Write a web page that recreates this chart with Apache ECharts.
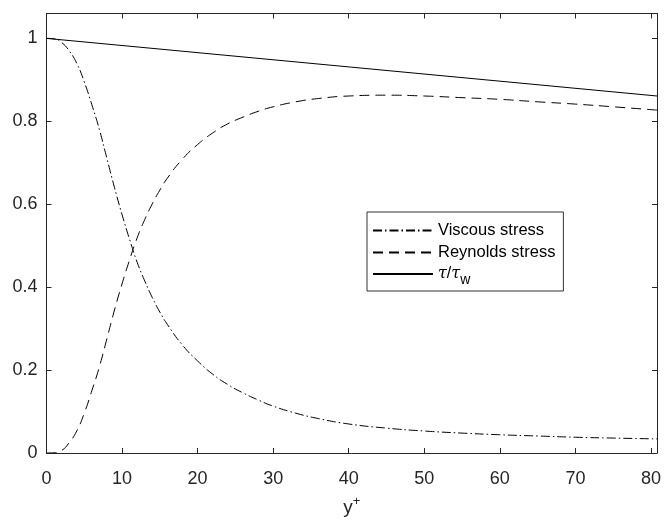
<!DOCTYPE html>
<html>
<head>
<meta charset="utf-8">
<script src="https://cdn.jsdelivr.net/npm/echarts@6/dist/echarts.min.js"></script>
<style>
html,body{margin:0;padding:0;background:#fff;}
#chart{width:664px;height:522px;}
</style>
</head>
<body>
<div id="chart"></div>
<script>
var yPlus =      [0, 1, 2, 3, 4, 5, 6, 7, 8, 9, 10, 11, 12, 13, 14, 15, 16, 18, 20, 22, 24, 26, 28, 30, 33, 36, 40, 45, 50, 55, 60, 65, 70, 75, 80.8];
var viscous =    [1.0, 0.999, 0.99, 0.97, 0.94, 0.895, 0.84, 0.78, 0.71, 0.64, 0.575, 0.515, 0.46, 0.415, 0.375, 0.34, 0.31, 0.26, 0.222, 0.19, 0.165, 0.145, 0.128, 0.113, 0.096, 0.083, 0.07, 0.06, 0.053, 0.048, 0.044, 0.041, 0.038, 0.036, 0.034];
var reynolds =   [0.0, 0.0005, 0.006, 0.025, 0.053, 0.096, 0.15, 0.208, 0.276, 0.345, 0.408, 0.466, 0.519, 0.563, 0.601, 0.634, 0.663, 0.709, 0.744, 0.772, 0.794, 0.810, 0.824, 0.835, 0.847, 0.855, 0.861, 0.863, 0.861, 0.857, 0.853, 0.847, 0.8415, 0.835, 0.827];
var totalX =     [0, 80.8];
var totalY =     [1.0, 0.861];
var xTicks = [0, 10, 20, 30, 40, 50, 60, 70, 80];
var yTicks = [0, 0.2, 0.4, 0.6, 0.8, 1];
var seriesNames = ['Viscous stress', 'Reynolds stress', 'tau'];

function pairs(xs, ys){ return xs.map(function(x,i){ return [x, ys[i]]; }); }

var axisColor = '#262626';
var font = 'Liberation Sans, Arial, Helvetica, sans-serif';

var chart = echarts.init(document.getElementById('chart'), null, {renderer:'canvas'});
var baseX = {
  type:'value', min:0, max:80.8, interval:10,
  axisLine:{show:true, onZero:false, lineStyle:{color:axisColor, width:1}},
  axisTick:{show:true, inside:true, length:5, lineStyle:{color:axisColor}},
  splitLine:{show:false}
};
var baseY = {
  type:'value', min:0, max:1.06, interval:0.2,
  axisLine:{show:true, onZero:false, lineStyle:{color:axisColor, width:1}},
  axisTick:{show:true, inside:true, length:5, lineStyle:{color:axisColor}},
  splitLine:{show:false}
};
function fmtX(v){ return xTicks.indexOf(v) >= 0 ? String(v) : ''; }
function fmtY(v){
  for (var i=0;i<yTicks.length;i++){ if (Math.abs(yTicks[i]-v)<1e-9) return String(yTicks[i]); }
  return '';
}

chart.setOption({
  animation:false,
  backgroundColor:'#fff',
  grid:{left:46.5, right:2, top:13.5, bottom:66, containLabel:false},
  xAxis:[
    Object.assign({}, baseX, {
      position:'bottom',
      name:'y{sup|+}', nameLocation:'middle', nameGap:42,
      nameTextStyle:{color:axisColor, fontSize:19, fontFamily:font,
        rich:{sup:{fontSize:13, verticalAlign:'top', padding:[0,0,12,0], color:axisColor, fontFamily:font}}},
      axisLabel:{show:true, color:axisColor, fontSize:18, fontFamily:font, margin:17, formatter:fmtX, showMaxLabel:true}
    }),
    Object.assign({}, baseX, {position:'top', axisLabel:{show:false}})
  ],
  yAxis:[
    Object.assign({}, baseY, {
      position:'left',
      axisLabel:{show:true, color:axisColor, fontSize:18, fontFamily:font, margin:9, padding:[5,0,0,0], formatter:fmtY}
    }),
    Object.assign({}, baseY, {position:'right', axisLabel:{show:false}})
  ],
  legend:{
    show:true, orient:'vertical', left:367, top:212,
    backgroundColor:'#fff', borderColor:'#333', borderWidth:1,
    padding:[10, 8, 4, 5],
    itemWidth:60, itemHeight:14, itemGap:5,
    data:seriesNames,
    itemStyle:{color:'rgba(0,0,0,0)', borderColor:'rgba(0,0,0,0)', borderWidth:0, opacity:0},
    textStyle:{color:'#000', fontSize:16.5, fontFamily:font,
      rich:{
        it:{fontStyle:'italic', fontFamily:'DejaVu Serif, Liberation Serif, serif', fontSize:16, color:'#000'},
        sub:{fontSize:14, fontFamily:font, color:'#000', verticalAlign:'bottom', padding:[12,0,0,0]},
        n:{fontSize:16, fontFamily:font, color:'#000'}
      }},
    formatter:function(name){
      if (name === 'tau') return '{it|τ}{n|/}{it|τ}{sub|w}';
      return name;
    }
  },
  series:[
    {name:seriesNames[0], type:'line', xAxisIndex:0, yAxisIndex:0, data:pairs(yPlus, viscous),
      smooth:true, showSymbol:false, symbol:'none',
      lineStyle:{color:'#000', width:1, type:[9,3,1.5,3]}, itemStyle:{color:'#000'}},
    {name:seriesNames[1], type:'line', xAxisIndex:0, yAxisIndex:0, data:pairs(yPlus, reynolds),
      smooth:true, showSymbol:false, symbol:'none',
      lineStyle:{color:'#000', width:1, type:[10,6]}, itemStyle:{color:'#000'}},
    {name:seriesNames[2], type:'line', xAxisIndex:0, yAxisIndex:0, data:pairs(totalX, totalY),
      showSymbol:false, symbol:'none',
      lineStyle:{color:'#000', width:1, type:'solid'}, itemStyle:{color:'#000'}}
  ]
});
</script>
</body>
</html>
